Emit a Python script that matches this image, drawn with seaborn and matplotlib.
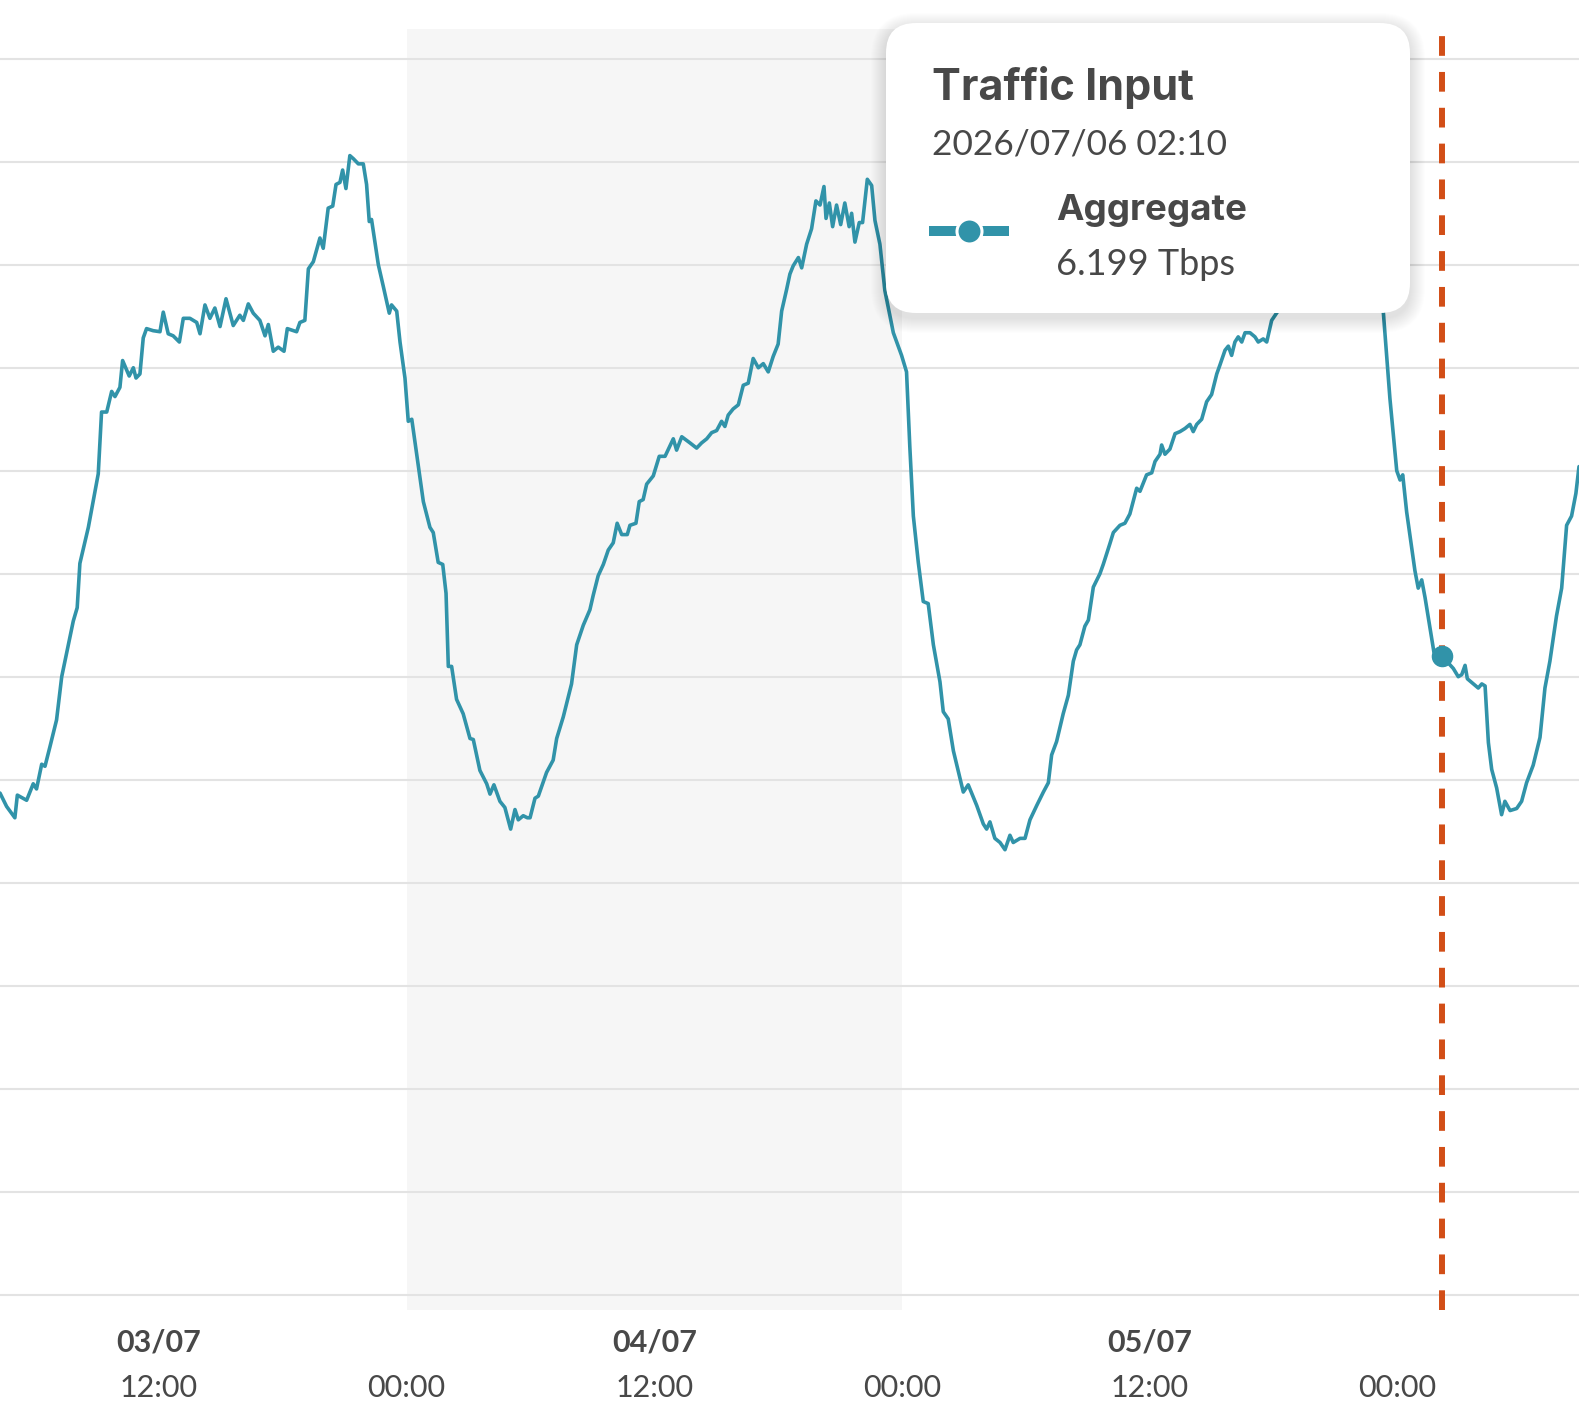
import numpy as np
import pandas as pd
import seaborn as sns
import matplotlib
matplotlib.use("Agg")
from matplotlib import pyplot as plt
from matplotlib.patches import FancyBboxPatch
import matplotlib.dates as mdates

# hours since 2026/07/03 00:00
hours = [
    4.30, 4.62, 5.02, 5.14, 5.59, 5.91, 6.07, 6.32, 6.48, 6.72,
    7.04, 7.29, 7.53, 7.85, 8.04, 8.17, 8.58, 8.82, 9.06, 9.22,
    9.47, 9.71, 9.87, 10.11, 10.24, 10.56, 10.76, 10.89, 11.08, 11.24,
    11.40, 11.72, 12.05, 12.21, 12.45, 12.69, 12.99, 13.18, 13.50, 13.83,
    13.99, 14.23, 14.47, 14.71, 14.96, 15.25, 15.60, 15.92, 16.09, 16.33,
    16.57, 16.89, 17.14, 17.30, 17.54, 17.78, 18.06, 18.22, 18.67, 18.83,
    19.07, 19.24, 19.48, 19.80, 19.96, 20.20, 20.42, 20.58, 20.77, 20.90,
    21.06, 21.25, 21.42, 21.66, 21.90, 22.06, 22.19, 22.30, 22.63, 22.87,
    23.16, 23.27, 23.52, 23.68, 23.92, 24.08, 24.25, 24.49, 24.81, 25.13,
    25.29, 25.53, 25.75, 25.91, 26.02, 26.18, 26.42, 26.74, 27.07, 27.23,
    27.55, 27.88, 28.04, 28.23, 28.52, 28.76, 29.04, 29.25, 29.41, 29.65,
    29.85, 29.98, 30.22, 30.38, 30.78, 31.10, 31.27, 31.59, 31.99, 32.24,
    32.56, 32.88, 33.04, 33.28, 33.53, 33.77, 34.01, 34.20, 34.42, 34.69,
    34.82, 35.11, 35.27, 35.46, 35.63, 35.95, 36.24, 36.52, 36.92, 37.08,
    37.33, 37.73, 38.05, 38.29, 38.54, 38.78, 39.02, 39.26, 39.42, 39.58,
    39.82, 40.07, 40.31, 40.55, 40.79, 41.04, 41.28, 41.52, 41.76, 42.00,
    42.17, 42.41, 42.57, 42.73, 42.98, 43.14, 43.38, 43.62, 43.83, 44.03,
    44.22, 44.32, 44.48, 44.64, 44.83, 45.03, 45.23, 45.44, 45.56, 45.72,
    45.93, 46.09, 46.32, 46.53, 46.69, 46.93, 47.17, 47.58, 47.98, 48.22,
    48.38, 48.55, 48.79, 49.03, 49.27, 49.52, 49.84, 50.00, 50.24, 50.49,
    50.97, 51.21, 51.62, 51.94, 52.10, 52.26, 52.50, 52.75, 52.99, 53.23,
    53.39, 53.72, 53.96, 54.20, 54.53, 54.85, 55.09, 55.25, 55.49, 55.81,
    56.06, 56.30, 56.46, 56.62, 56.86, 57.03, 57.27, 57.59, 57.75, 58.07,
    58.24, 58.56, 58.80, 59.04, 59.37, 59.53, 59.85, 60.10, 60.26, 60.50,
    60.58, 60.74, 60.98, 61.23, 61.47, 61.71, 61.95, 62.11, 62.28, 62.52,
    62.76, 63.00, 63.25, 63.41, 63.65, 63.81, 63.97, 64.13, 64.29, 64.46,
    64.62, 64.86, 65.10, 65.26, 65.50, 65.67, 65.91, 66.18, 66.50, 67.00,
    67.50, 68.00, 68.50, 69.00, 69.50, 70.00, 70.50, 70.80, 71.00, 71.32,
    71.64, 71.97, 72.13, 72.26, 72.45, 72.85, 73.01, 73.18, 73.34, 73.77,
    74.1667, 74.71, 74.95, 75.12, 75.28, 75.39, 75.68, 75.92, 76.09, 76.25,
    76.41, 76.57, 76.81, 77.05, 77.21, 77.46, 77.78, 78.02, 78.26, 78.58,
    78.91, 79.15, 79.39, 79.71, 79.96, 80.20, 80.44, 80.65, 80.80,
]
tbps = [
    4.87, 4.74, 4.63, 4.85, 4.80, 4.96, 4.91, 5.15, 5.13, 5.32,
    5.58, 6.00, 6.23, 6.54, 6.67, 7.10, 7.45, 7.71, 7.97, 8.57,
    8.57, 8.77, 8.72, 8.81, 9.07, 8.92, 9.00, 8.90, 8.94, 9.29,
    9.38, 9.36, 9.35, 9.54, 9.33, 9.31, 9.25, 9.48, 9.48, 9.44,
    9.33, 9.61, 9.48, 9.58, 9.40, 9.67, 9.41, 9.51, 9.46, 9.62,
    9.53, 9.46, 9.31, 9.42, 9.16, 9.20, 9.16, 9.38, 9.35, 9.44,
    9.46, 9.96, 10.03, 10.26, 10.16, 10.55, 10.57, 10.78, 10.80, 10.92,
    10.74, 11.06, 11.03, 10.98, 10.98, 10.78, 10.42, 10.44, 10.00, 9.79,
    9.53, 9.61, 9.55, 9.25, 8.90, 8.48, 8.50, 8.16, 7.70, 7.45,
    7.40, 7.11, 7.09, 6.81, 6.10, 6.10, 5.78, 5.64, 5.40, 5.39,
    5.09, 4.96, 4.86, 4.95, 4.79, 4.73, 4.52, 4.71, 4.61, 4.65,
    4.63, 4.63, 4.82, 4.84, 5.07, 5.19, 5.40, 5.61, 5.93, 6.31,
    6.50, 6.65, 6.79, 6.98, 7.09, 7.23, 7.30, 7.49, 7.38, 7.38,
    7.47, 7.49, 7.70, 7.72, 7.87, 7.95, 8.14, 8.14, 8.31, 8.20,
    8.33, 8.27, 8.22, 8.27, 8.31, 8.37, 8.39, 8.48, 8.43, 8.54,
    8.60, 8.64, 8.83, 8.85, 9.09, 9.00, 9.04, 8.96, 9.11, 9.23,
    9.55, 9.76, 9.91, 9.99, 10.07, 9.97, 10.20, 10.35, 10.62, 10.58,
    10.76, 10.45, 10.60, 10.37, 10.58, 10.39, 10.60, 10.37, 10.50, 10.22,
    10.41, 10.41, 10.83, 10.77, 10.43, 10.20, 9.75, 9.34, 9.12, 8.96,
    8.23, 7.56, 7.11, 6.73, 6.71, 6.31, 5.95, 5.66, 5.59, 5.28,
    4.88, 4.95, 4.75, 4.57, 4.52, 4.59, 4.43, 4.39, 4.32, 4.46,
    4.39, 4.43, 4.43, 4.61, 4.75, 4.88, 4.97, 5.24, 5.37, 5.64,
    5.82, 6.15, 6.26, 6.31, 6.49, 6.55, 6.87, 7.00, 7.09, 7.29,
    7.40, 7.47, 7.49, 7.58, 7.83, 7.80, 7.96, 7.98, 8.09, 8.16,
    8.25, 8.16, 8.21, 8.36, 8.38, 8.41, 8.45, 8.38, 8.45, 8.50,
    8.67, 8.74, 8.94, 9.03, 9.17, 9.21, 9.12, 9.25, 9.30, 9.25,
    9.34, 9.34, 9.30, 9.25, 9.28, 9.25, 9.46, 9.54, 9.75, 10.05,
    10.30, 10.50, 10.65, 10.80, 10.75, 10.60, 10.30, 10.00, 9.75, 9.54,
    8.70, 8.00, 7.91, 7.96, 7.60, 7.03, 6.86, 6.94, 6.77, 6.24,
    6.199, 6.08, 6.00, 6.02, 6.11, 5.98, 5.93, 5.89, 5.93, 5.91,
    5.36, 5.10, 4.92, 4.66, 4.79, 4.70, 4.72, 4.79, 4.97, 5.14,
    5.41, 5.89, 6.15, 6.59, 6.86, 7.47, 7.56, 7.78, 8.04,
]

tick_hours = [12, 24, 36, 48, 60, 72]
tick_labels = ['12:00', '00:00', '12:00', '00:00', '12:00', '00:00']
day_hours = [12, 36, 60]
day_labels = ['03/07', '04/07', '05/07']
shade_hours = [24, 48]
x_range = [4.30, 80.80]
y_range = [-0.15, 12.29]
grid_values = list(range(0, 13))

cursor_hour = 74 + 10 / 60
cursor_value = 6.199
tooltip_title = 'Traffic Input'
tooltip_time = '2026/07/06 02:10'
series_name = 'Aggregate'
series_unit = 'Tbps'

TEAL = '#3193a9'
ORANGE = '#d24e17'
TEXT = '#484848'

start = pd.Timestamp('2026-07-03 00:00')


def to_num(h):
    return mdates.date2num((start + pd.to_timedelta(h, unit='h')).to_pydatetime())


data = pd.DataFrame({'time': [start + pd.to_timedelta(h, unit='h') for h in hours],
                     'tbps': tbps})

sns.set_style('white')
plt.rcParams['font.family'] = ['Lato', 'DejaVu Sans']

fig = plt.figure(figsize=(15.79, 14.19), dpi=100)
ax = fig.add_axes([0, 0.0768, 1, 0.9028])

ax.axvspan(to_num(shade_hours[0]), to_num(shade_hours[1]), color='#f6f6f6', lw=0, zorder=0)
for g in grid_values:
    ax.axhline(g, color='#e3e3e3', lw=1.5, zorder=0.5)

sns.lineplot(data=data, x='time', y='tbps', ax=ax, color=TEAL, lw=2.6, zorder=2)

ax.axvline(to_num(cursor_hour), color=ORANGE, lw=4.3, dashes=(3.3, 2.7), zorder=3)
ax.plot([to_num(cursor_hour)], [cursor_value], 'o', ms=14.5, color=TEAL, mec=TEAL, zorder=4)

ax.set_xlim(to_num(x_range[0]), to_num(x_range[1]))
ax.set_ylim(*y_range)
ax.set_xticks([])
ax.set_yticks([])
ax.set_xlabel('')
ax.set_ylabel('')
sns.despine(ax=ax, left=True, bottom=True)

tr = ax.get_xaxis_transform()
for h, lab in zip(tick_hours, tick_labels):
    ax.text(to_num(h), -0.0608, lab, transform=tr, ha='center', va='center',
            fontsize=22, color=TEXT, clip_on=False)
for h, lab in zip(day_hours, day_labels):
    ax.text(to_num(h), -0.0250, lab, transform=tr, ha='center', va='center',
            fontsize=22, fontweight='bold', color=TEXT, clip_on=False)

# tooltip, drawn in pixel space on an overlay
ov = fig.add_axes([0, 0, 1, 1])
ov.set_xlim(0, 1579)
ov.set_ylim(1419, 0)
ov.axis('off')
bx, by, bw, bh = 886, 23, 524, 290
for i in range(1, 16):
    ov.add_patch(FancyBboxPatch((bx - i, by - i + 5), bw + 2 * i, bh + 2 * i,
                                boxstyle='round,pad=0,rounding_size=%d' % (30 + i),
                                fc='black', ec='none', alpha=0.006))
ov.add_patch(FancyBboxPatch((bx, by), bw, bh, boxstyle='round,pad=0,rounding_size=30',
                            fc='white', ec='none'))
ov.text(932, 100, tooltip_title, fontsize=31, fontweight='bold', color=TEXT, va='baseline',
        family=['Inter', 'DejaVu Sans'])
ov.text(932, 155, tooltip_time, fontsize=25.5, color=TEXT, va='baseline')
ov.plot([929, 1009], [231, 231], color=TEAL, lw=7.2, solid_capstyle='butt')
ov.plot([969], [231], 'o', ms=18, color=TEAL, mec='white', mew=2.2)
ov.text(1056, 220, series_name, fontsize=26.5, fontweight='bold', color=TEXT, va='baseline',
        family=['Inter', 'DejaVu Sans'])
ov.text(1056, 275, '%.3f %s' % (cursor_value, series_unit), fontsize=26, color=TEXT, va='baseline')

fig.savefig('out.png', dpi=100, facecolor='white')
